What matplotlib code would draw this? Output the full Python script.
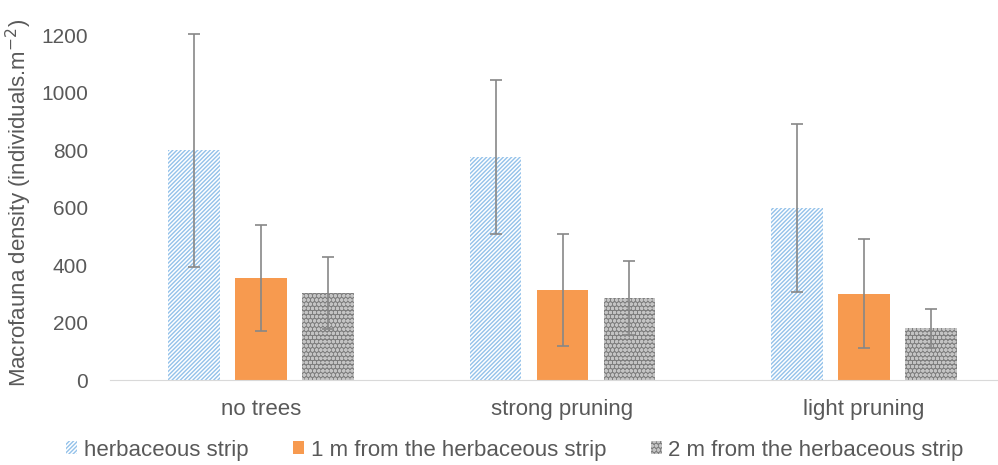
import matplotlib.pyplot as plt
import numpy as np
from matplotlib.patches import Patch

plt.rcParams['font.family'] = ['Liberation Sans', 'DejaVu Sans']
plt.rcParams['hatch.linewidth'] = 1.1

# data
categories = ["no trees", "strong pruning", "light pruning"]
series = ["herbaceous strip", "1 m from the herbaceous strip", "2 m from the herbaceous strip"]
herbaceous = [800, 775, 600]
herbaceous_err = [405, 268, 292]
one_m = [356, 314, 300]
one_m_err = [185, 195, 190]
two_m = [303, 285, 180]
two_m_err = [125, 128, 68]

values = [herbaceous, one_m, two_m]
errors = [herbaceous_err, one_m_err, two_m_err]
faces = ["#94c2ea", "#f79a4f", "#7e7e7e"]
hatch_cols = ["white", "#f79a4f", "#c4c4c4"]
hatches = ["////////", None, "oooo"]

text_col = "#595959"

fig = plt.figure(figsize=(9.98, 4.65), dpi=100)
ax = fig.add_axes([110 / 998, 85 / 465, 905 / 998, 362 / 465])

x = np.arange(len(categories))
width = 0.172
step = 0.222

for i, (vals, errs) in enumerate(zip(values, errors)):
    pos = x + (i - 1) * step
    ax.bar(pos, vals, width=width, color=faces[i], edgecolor=hatch_cols[i],
           hatch=hatches[i], linewidth=0)
    ax.errorbar(pos, vals, yerr=errs, fmt="none", ecolor="#878787",
                elinewidth=1.2, capsize=4, capthick=1.2)

ax.set_xlim(-0.5, 2.5)
ax.set_ylim(0, 1260)
ax.set_yticks(range(0, 1201, 200))
ax.set_xticks(x)
ax.set_xticklabels(categories)

for s in ["top", "right", "left"]:
    ax.spines[s].set_visible(False)
ax.spines["bottom"].set_color("#d9d9d9")
ax.tick_params(axis="both", length=0, colors=text_col)
ax.tick_params(axis="y", pad=16, labelsize=15)
ax.tick_params(axis="x", pad=14, labelsize=16)

ax.set_ylabel("Macrofauna density (individuals.m$^{-2}$)", color=text_col,
              fontsize=16)
ax.yaxis.set_label_coords(-76 / 905, 0.49)

handles = [Patch(facecolor=faces[i], edgecolor=hatch_cols[i], hatch=hatches[i],
                 linewidth=0) for i in range(3)]
fig.legend(handles, series, loc="center", bbox_to_anchor=(0.516, 15 / 465), ncol=3,
           frameon=False, fontsize=16, labelcolor=text_col, handlelength=0.5,
           handleheight=0.5, handletextpad=0.3, columnspacing=2.0)

fig.savefig("out.png", dpi=100)
